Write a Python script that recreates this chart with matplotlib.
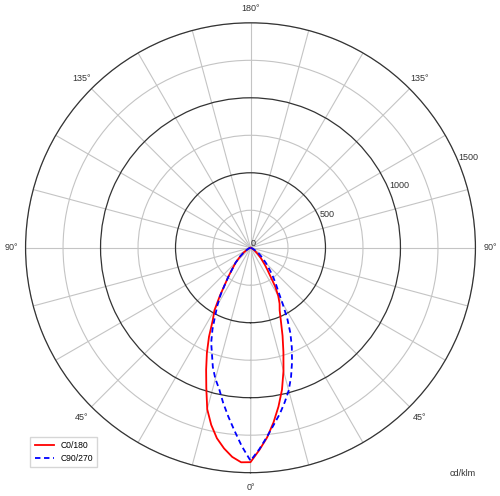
"""Polar luminous intensity diagram (cd/klm)."""
import numpy as np
import matplotlib
matplotlib.use("Agg")
import matplotlib.pyplot as plt

plt.rcParams["font.family"] = ["Liberation Sans", "DejaVu Sans"]

# gamma angles (deg) and intensities in cd/klm for each half-plane
gamma = [0, 2.5, 5, 7.5, 10, 12.5, 15, 17.5, 20, 22.5, 25, 27.5, 30, 32.5, 35,
         37.5, 40, 45, 50, 55, 60, 65, 70, 75, 80, 85, 90]
c0 = [1425, 1350, 1270, 1175, 1075, 970, 850, 730, 625, 530, 460, 420, 370,
      305, 230, 185, 150, 98, 60, 35, 20, 10, 5, 3, 2, 1, 0]
c180 = [1430, 1432, 1400, 1350, 1290, 1210, 1115, 980, 865, 760, 655, 545, 480,
        380, 295, 242, 196, 140, 90, 55, 30, 16, 8, 4, 2, 1, 0]
c90 = [1420, 1345, 1265, 1190, 1125, 1055, 985, 900, 810, 720, 630, 530, 425,
       345, 295, 250, 210, 148, 102, 68, 40, 22, 10, 5, 2, 1, 0]
c270 = [1420, 1325, 1225, 1135, 1050, 965, 905, 835, 752, 685, 600, 510, 440,
        370, 295, 240, 195, 140, 90, 55, 30, 16, 8, 4, 2, 1, 0]

r_ticks = [0, 250, 500, 750, 1000, 1250, 1500]
r_labels = ["0", "", "500", "", "1000", "", "1500"]
angle_labels = {0: "0°", 45: "45°", 90: "90°", 135: "135°", 180: "180°",
                225: "135°", 270: "90°", 315: "45°"}


def half_plane_curve(right, left):
    g = np.array(gamma)
    theta = np.concatenate([-g[::-1], g[1:]])
    r = np.concatenate([np.array(left)[::-1], np.array(right)[1:]])
    return np.radians(theta), r


fig = plt.figure(figsize=(5, 4.96), dpi=100)
ax = fig.add_axes([0.051, 0.047, 0.9, 0.907], projection="polar")
ax.set_theta_zero_location("S")
ax.set_theta_direction(1)

th, r = half_plane_curve(c0, c180)
ax.plot(th, r, color="red", lw=1.3, label="C0/180")
th, r = half_plane_curve(c90, c270)
ax.plot(th, r, color="blue", lw=1.3, ls=(0, (3, 2)), label="C90/270")

ax.set_ylim(0, 1500)
ax.set_rticks(r_ticks)
ax.set_yticklabels(r_labels, fontsize=6.5, color="#333333")
ax.set_rlabel_position(112.5)

angles = list(range(0, 360, 15))
ax.set_thetagrids(angles, [angle_labels.get(a, "") for a in angles],
                  fontsize=6.5, color="#333333")
ax.tick_params(axis="x", pad=0)

ax.xaxis.grid(True, color="#c4c4c4", lw=0.8)
for val, gl in zip(r_ticks, ax.yaxis.get_gridlines()):
    if val in (500, 1000):
        gl.set_color("#333333")
        gl.set_linewidth(0.9)
    else:
        gl.set_color("#c4c4c4")
        gl.set_linewidth(0.8)
ax.spines["polar"].set_color("#333333")
ax.spines["polar"].set_linewidth(0.9)

fig.legend(loc="lower left", bbox_to_anchor=(0.052, 0.05), fontsize=6.2,
           frameon=True, fancybox=False, edgecolor="#cccccc", handlelength=2.2,
           borderpad=0.5, labelspacing=0.4)
fig.text(0.926, 0.046, "cd/klm", fontsize=6.5, ha="center", va="center",
         color="#333333")

plt.savefig("out.png", dpi=100)
plt.close()
